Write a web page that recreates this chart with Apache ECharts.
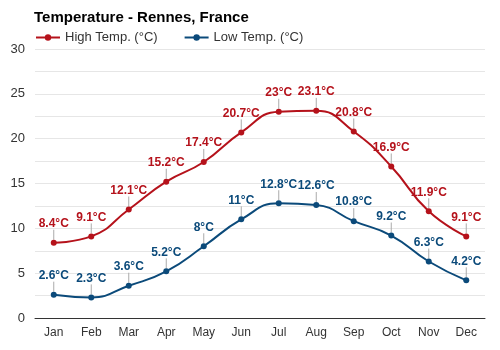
<!DOCTYPE html>
<html><head><meta charset="utf-8">
<script src="https://cdn.jsdelivr.net/npm/echarts@6/dist/echarts.min.js"></script>
<style>html,body{margin:0;padding:0;background:#fff}#c{width:500px;height:350px}</style>
</head><body><div id="c"></div>
<script>
const months = ['Jan','Feb','Mar','Apr','May','Jun','Jul','Aug','Sep','Oct','Nov','Dec'];
const highTemp = [8.4, 9.1, 12.1, 15.2, 17.4, 20.7, 23, 23.1, 20.8, 16.9, 11.9, 9.1];
const lowTemp = [2.6, 2.3, 3.6, 5.2, 8, 11, 12.8, 12.6, 10.8, 9.2, 6.3, 4.2];
const seriesNames = ['High Temp. (°C)', 'Low Temp. (°C)'];
const FONT = '"Liberation Sans", Arial, sans-serif';
const chart = echarts.init(document.getElementById('c'), null, {renderer:'canvas'});
function mk(name, data, color){
  return {
    name, type:'line', data, smooth:true, symbol:'circle', symbolSize:6,
    lineStyle:{color, width:2}, itemStyle:{color},
    label:{show:true, position:'top', distance:2, color, fontWeight:'bold', fontSize:12, fontFamily:FONT,
      formatter:p=>p.value+'°C'},
    labelLayout:{dy:-8},
    labelLine:{show:true, lineStyle:{color:'#aaaaaa', width:1}}
  };
}
chart.setOption({
  animation:false,
  textStyle:{fontFamily:FONT},
  title:{text:'Temperature - Rennes, France', left:29, top:5,
    textStyle:{fontSize:15, fontWeight:'bold', color:'#000', fontFamily:FONT}},
  legend:{left:30, top:26, itemWidth:24, itemHeight:8, itemGap:26,
    textStyle:{fontSize:13, color:'#333', fontFamily:FONT},
    data:seriesNames},
  grid:{left:35, right:15, top:49, bottom:32},
  xAxis:{type:'category', data:months, boundaryGap:true,
    axisLine:{lineStyle:{color:'#333'}}, axisTick:{show:false},
    axisLabel:{color:'#333', fontSize:12, margin:9, fontFamily:FONT}},
  yAxis:{type:'value', min:0, max:30, interval:2.5,
    axisLine:{show:false}, axisTick:{show:false},
    axisLabel:{color:'#333', fontSize:13, margin:10, fontFamily:FONT,
      formatter:v=>(v%5===0 ? String(v) : '')},
    splitLine:{lineStyle:{color:'#e6e6e6'}}},
  series:[mk(seriesNames[0], highTemp, '#b5121b'), mk(seriesNames[1], lowTemp, '#0b4a7a')]
});
</script></body></html>
